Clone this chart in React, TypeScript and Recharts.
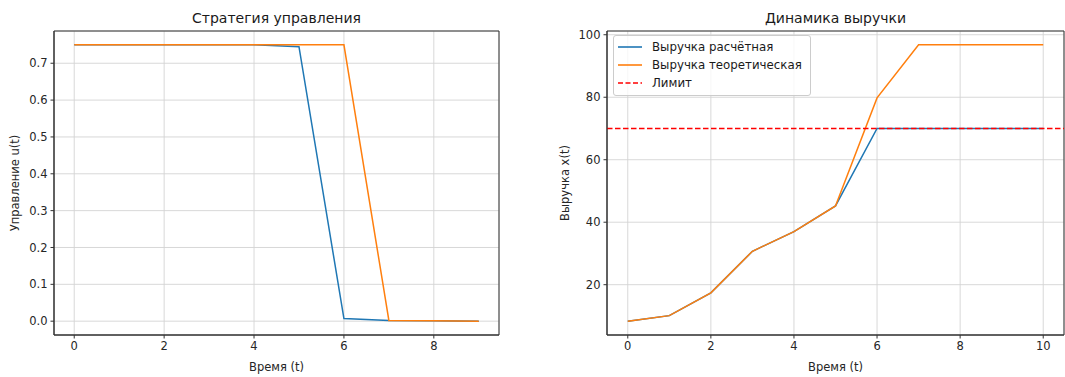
import React from "react";
import { CartesianGrid, Label, Legend, Line, LineChart, ReferenceArea, ReferenceLine, XAxis, YAxis } from "recharts";

const FONT = "'DejaVu Sans', Verdana, sans-serif";
const BLUE = "#1f77b4";
const ORANGE = "#ff7f0e";
const RED = "#ff0000";

// Стратегия управления
const controlTime = [0, 1, 2, 3, 4, 5, 6, 7, 8, 9];
const controlCalc = [0.75, 0.75, 0.75, 0.75, 0.75, 0.745, 0.007, 0.002, 0.001, 0.0];
const controlTheory = [0.75, 0.75, 0.75, 0.75, 0.75, 0.75, 0.75, 0.002, 0.001, 0.0];
const controlTicksX = [0, 2, 4, 6, 8];
const controlTicksY = [0, 0.1, 0.2, 0.3, 0.4, 0.5, 0.6, 0.7];
const controlDomainX = [-0.45, 9.45];
const controlDomainY = [-0.0375, 0.7875];

// Динамика выручки
const revenueTime = [0, 1, 2, 3, 4, 5, 6, 7, 8, 9, 10];
const revenueCalc = [8.3, 10.1, 17.4, 30.7, 37, 45.2, 70, 70, 70, 70, 70];
const revenueTheory = [8.3, 10.1, 17.4, 30.7, 37, 45.2, 79.8, 96.8, 96.8, 96.8, 96.8];
const revenueLimit = 70;
const revenueTicksX = [0, 2, 4, 6, 8, 10];
const revenueTicksY = [20, 40, 60, 80, 100];
const revenueDomainX = [-0.5, 10.5];
const revenueDomainY = [3.9, 101.2];

const legendNames = ["Выручка расчётная", "Выручка теоретическая", "Лимит"];

const controlData = controlTime.map((t, i) => ({ t, calc: controlCalc[i], theory: controlTheory[i] }));
const revenueData = revenueTime.map((t, i) => ({ t, calc: revenueCalc[i], theory: revenueTheory[i] }));

const tickStyle = { fill: "#262626", fontSize: 11.5, fontFamily: FONT };

function xLabel(text: string) {
  return (
    <Label
      content={(props: any) => {
        const vb = props.viewBox || { x: 0, y: 0, width: 0 };
        return (
          <text
            x={vb.x + vb.width / 2}
            y={vb.y + 31.5}
            textAnchor="middle"
            dominantBaseline="central"
            fill="#262626"
            fontSize={11.5}
            fontFamily={FONT}
          >
            {text}
          </text>
        );
      }}
    />
  );
}

function yLabel(text: string, cx: number) {
  return (
    <Label
      content={(props: any) => {
        const vb = props.viewBox || { x: 0, y: 0, height: 0 };
        const cy = vb.y + vb.height / 2;
        return (
          <text
            x={cx}
            y={cy}
            transform={`rotate(-90 ${cx} ${cy})`}
            textAnchor="middle"
            dominantBaseline="central"
            fill="#262626"
            fontSize={11.5}
            fontFamily={FONT}
          >
            {text}
          </text>
        );
      }}
    />
  );
}

function Title({ text, left, width }: { text: string; left: number; width: number }) {
  return (
    <div
      style={{
        position: "absolute",
        left,
        top: 9,
        width,
        textAlign: "center",
        fontFamily: FONT,
        fontSize: 14,
        lineHeight: "18px",
        color: "#1a1a1a",
      }}
    >
      {text}
    </div>
  );
}

function RevenueLegend() {
  const samples = [
    { color: BLUE, dash: undefined },
    { color: ORANGE, dash: undefined },
    { color: RED, dash: "5 2.5" },
  ];
  return (
    <div
      style={{
        background: "rgba(255,255,255,0.8)",
        border: "1px solid #cccccc",
        borderRadius: 3,
        padding: "2px 8px 3px 3px",
        fontFamily: FONT,
        fontSize: 11.8,
        color: "#1a1a1a",
      }}
    >
      {legendNames.map((name, i) => (
        <div key={name} style={{ display: "flex", alignItems: "center", height: 18 }}>
          <svg width={26} height={18} style={{ display: "block" }}>
            <line
              x1={1}
              x2={25}
              y1={9}
              y2={9}
              stroke={samples[i].color}
              strokeWidth={1.6}
              strokeDasharray={samples[i].dash}
            />
          </svg>
          <span style={{ marginLeft: 9, whiteSpace: "nowrap" }}>{name}</span>
        </div>
      ))}
    </div>
  );
}

export default function App() {
  return (
    <div style={{ position: "fixed", left: 0, top: 0, width: 1065, height: 377, background: "#fff", overflow: "hidden" }}>
      <Title text="Стратегия управления" left={54} width={445} />
      <Title text="Динамика выручки" left={607} width={457} />

      <div style={{ position: "absolute", left: 0, top: 0 }}>
        <LineChart width={540} height={377} data={controlData} margin={{ top: 31, right: 41, bottom: 0, left: 0 }}>
          <CartesianGrid stroke="#d4d4d4" strokeWidth={0.9} />
          <XAxis
            dataKey="t"
            type="number"
            domain={controlDomainX}
            ticks={controlTicksX}
            allowDataOverflow
            height={42}
            tickSize={3.5}
            tickMargin={3}
            tick={tickStyle}
            tickLine={{ stroke: "#333" }}
            axisLine={{ stroke: "#333" }}
          >
            {xLabel("Время (t)")}
          </XAxis>
          <YAxis
            type="number"
            domain={controlDomainY}
            ticks={controlTicksY}
            allowDataOverflow
            width={54}
            tickSize={3.5}
            tickMargin={3}
            tick={tickStyle}
            tickFormatter={(v: number) => v.toFixed(1)}
            tickLine={{ stroke: "#333" }}
            axisLine={{ stroke: "#333" }}
          >
            {yLabel("Управление u(t)", 15)}
          </YAxis>
          <Line dataKey="calc" stroke={BLUE} strokeWidth={1.5} dot={false} isAnimationActive={false} />
          <Line dataKey="theory" stroke={ORANGE} strokeWidth={1.5} dot={false} isAnimationActive={false} />
          <ReferenceArea
            x1={controlDomainX[0]}
            x2={controlDomainX[1]}
            y1={controlDomainY[0]}
            y2={controlDomainY[1]}
            fill="none"
            stroke="#333"
            strokeWidth={1}
            ifOverflow="visible"
          />
        </LineChart>
      </div>

      <div style={{ position: "absolute", left: 545, top: 0 }}>
        <LineChart width={520} height={377} data={revenueData} margin={{ top: 31, right: 1, bottom: 0, left: 0 }}>
          <CartesianGrid stroke="#d4d4d4" strokeWidth={0.9} />
          <XAxis
            dataKey="t"
            type="number"
            domain={revenueDomainX}
            ticks={revenueTicksX}
            allowDataOverflow
            height={42}
            tickSize={3.5}
            tickMargin={3}
            tick={tickStyle}
            tickLine={{ stroke: "#333" }}
            axisLine={{ stroke: "#333" }}
          >
            {xLabel("Время (t)")}
          </XAxis>
          <YAxis
            type="number"
            domain={revenueDomainY}
            ticks={revenueTicksY}
            allowDataOverflow
            width={62}
            tickSize={3.5}
            tickMargin={3}
            tick={tickStyle}
            tickLine={{ stroke: "#333" }}
            axisLine={{ stroke: "#333" }}
          >
            {yLabel("Выручка x(t)", 20)}
          </YAxis>
          <Line dataKey="calc" stroke={BLUE} strokeWidth={1.5} dot={false} isAnimationActive={false} />
          <Line dataKey="theory" stroke={ORANGE} strokeWidth={1.5} dot={false} isAnimationActive={false} />
          <ReferenceLine y={revenueLimit} stroke={RED} strokeWidth={1.5} strokeDasharray="5.5 2.5" />
          <ReferenceArea
            x1={revenueDomainX[0]}
            x2={revenueDomainX[1]}
            y1={revenueDomainY[0]}
            y2={revenueDomainY[1]}
            fill="none"
            stroke="#333"
            strokeWidth={1}
            ifOverflow="visible"
          />
          <Legend
            layout="vertical"
            align="center"
            verticalAlign="middle"
            content={() => <RevenueLegend />}
            wrapperStyle={{ position: "absolute", left: 68, top: 35, width: "auto", height: "auto" }}
          />
        </LineChart>
      </div>
    </div>
  );
}
